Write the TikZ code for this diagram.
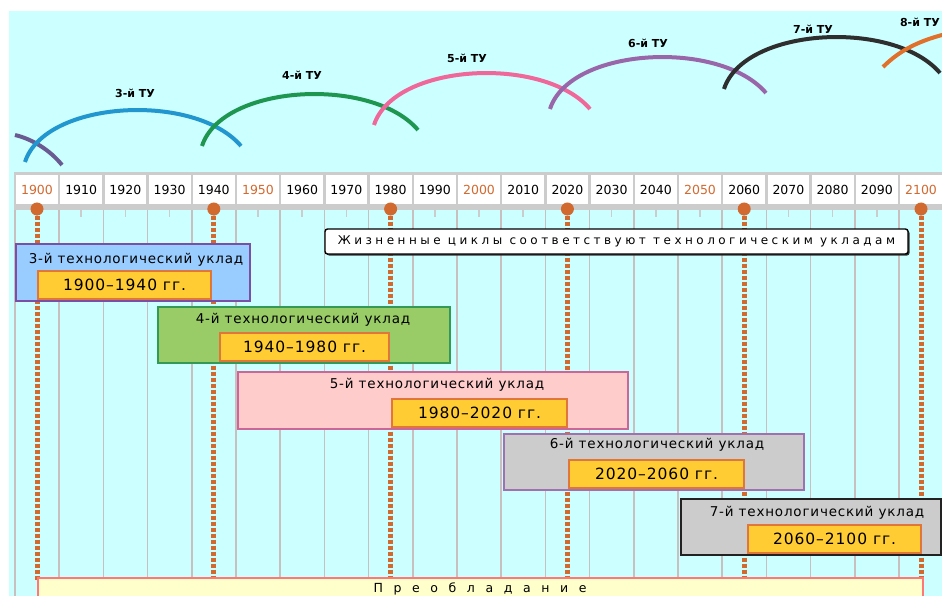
\documentclass[tikz,border=0pt]{standalone}
\usepackage{fontspec}
\setmainfont{DejaVu Sans}
\newfontfamily\tracked[LetterSpace=6]{DejaVu Sans}
\newfontfamily\spaced[LetterSpace=29]{DejaVu Sans}
\newfontfamily\wider[LetterSpace=53]{DejaVu Sans}
\usepackage{tikz}
\usetikzlibrary{positioning,calc,shadows}
\definecolor{sky}{HTML}{CCFFFF}
\definecolor{band}{HTML}{CCCCCC}
\definecolor{gridline}{HTML}{C9BFBF}
\definecolor{rust}{HTML}{D2692F}
\definecolor{gold}{HTML}{FFCC33}
\definecolor{goldedge}{HTML}{E0763A}
\definecolor{cream}{HTML}{FFFFCC}
\definecolor{creamedge}{HTML}{FF7777}
\definecolor{tutwo}{HTML}{6A5A92}
\definecolor{tuthree}{HTML}{2196CF}
\definecolor{tufour}{HTML}{1E9650}
\definecolor{tufive}{HTML}{F0679A}
\definecolor{tusix}{HTML}{9966AA}
\definecolor{tuseven}{HTML}{2E2E2E}
\definecolor{tueight}{HTML}{E0702A}
\definecolor{ukthreefill}{HTML}{99CCFF}
\definecolor{ukthreeedge}{HTML}{7B4FA5}
\definecolor{ukfourfill}{HTML}{99CC66}
\definecolor{ukfouredge}{HTML}{339955}
\definecolor{ukfivefill}{HTML}{FFCCCC}
\definecolor{ukfiveedge}{HTML}{CC6699}
\definecolor{uksixfill}{HTML}{CCCCCC}
\definecolor{uksixedge}{HTML}{A070B0}
\definecolor{uksevenedge}{HTML}{222222}
\tikzset{uklad/.style={draw, line width=2.2pt, anchor=north west, inner sep=0pt},
  yearbox/.style={uklad, anchor=south west, fill=gold, draw=goldedge, minimum width=174, minimum height=28, font=\tracked\fontsize{15.5}{17}\selectfont},
  uktitle/.style={inner sep=0pt, font=\tracked\fontsize{13.5}{15}\selectfont},
  peakdot/.style={circle, fill=rust, inner sep=0pt, minimum size=13},
  peak/.style={draw=rust, line width=5pt, dash pattern=on 4pt off 2pt},
  tucurve/.style={line width=4pt},
  tu/.style={inner sep=0pt, font=\bfseries\fontsize{11}{13}\selectfont},
  decade/.style={inner sep=0pt, font=\fontsize{12.5}{14}\selectfont}}
\begin{document}
\begin{tikzpicture}[x=1pt,y=-1pt]
\path[use as bounding box] (0,0) rectangle (942,596);
\clip (0,0) rectangle (942,596);
\fill[sky] (9,11) rectangle (942,596);
\foreach \k in {0,...,21} \draw[gridline, line width=1.7pt] ({15+44.2*\k},205) -- ({15+44.2*\k},596);
\fill[band] (14,172) rectangle (950,210);
\foreach \k in {0,...,20}{
  \pgfmathtruncatemacro\yr{1900+10*\k}
  \pgfmathtruncatemacro\r{mod(\yr,50)}
  \pgfmathsetmacro\cx{37+44.2*\k}
  \ifnum\r=0 \def\c{rust}\else\def\c{black}\fi
  \fill[white] ({\cx-20.9},175) rectangle ({\cx+20.9},204);
  \draw[band, line width=1.5pt] (\cx,204) -- (\cx,217);
  \node[decade, text=\c] (y\yr) at (\cx,190) {\yr};
}
\draw[tucurve, tutwo] (15,135) .. controls (32,139) and (50,150) .. (62,165);
\foreach \sx/\sy/\c in {25/162/tuthree, 202/146/tufour, 374/125/tufive, 550/109/tusix, 724/89/tuseven}
  \draw[tucurve, \c] (\sx,\sy) .. controls ({\sx+20},{\sy-62}) and ({\sx+170},{\sy-70}) .. ({\sx+216},{\sy-16});
\draw[tucurve, tueight] (883,67) .. controls (900,50) and (920,40) .. (950,33);
\node[tu] (l3) at (135,93) {3-й ТУ};
\node[tu] (l4) at (302,75) {4-й ТУ};
\node[tu] (l5) at (467,58) {5-й ТУ};
\node[tu] (l6) at (648,43) {6-й ТУ};
\node[tu] (l7) at (813,29) {7-й ТУ};
\node[tu, anchor=east] (l8) at (940,22) {8-й ТУ};
\foreach \yr in {1900,1940,...,2100}{
  \node[peakdot] (d\yr) at ({37+4.42*(\yr-1900)},209) {};
  \coordinate (e\yr) at ({37+4.42*(\yr-1900)},580);
  \draw[peak] (d\yr) -- (e\yr);
}
\node[uklad, fill=ukthreefill, draw=ukthreeedge, minimum width=234, minimum height=57] (u3) at (15,243) {};
\node[uktitle] (t3) at (136,260) {3-й технологический уклад};
\node[yearbox, minimum width=173] (p3) at (37,300) {1900–1940 гг.};
\node[uklad, fill=ukfourfill, draw=ukfouredge, minimum width=292, minimum height=56] (u4) at (157,306) {};
\node[uktitle] (t4) at (303,320) {4-й технологический уклад};
\node[yearbox, minimum width=169] (p4) at (219,362) {1940–1980 гг.};
\node[uklad, fill=ukfivefill, draw=ukfiveedge, minimum width=390, minimum height=57] (u5) at (237,371) {};
\node[uktitle] (t5) at (437,385) {5-й технологический уклад};
\node[yearbox, minimum width=175] (p5) at (391,428) {1980–2020 гг.};
\node[uklad, fill=uksixfill, draw=uksixedge, minimum width=300, minimum height=56] (u6) at (503,433) {};
\node[uktitle] (t6) at (657,445) {6-й технологический уклад};
\node[yearbox, minimum width=175] (p6) at (568,489) {2020–2060 гг.};
\node[uklad, fill=uksixfill, draw=uksevenedge, minimum width=260, minimum height=56] (u7) at (680,498) {};
\node[uktitle] (t7) at (817,513) {7-й технологический уклад};
\node[yearbox, minimum width=173] (p7) at (747,554) {2060–2100 гг.};
\node[draw, fill=white, line width=1.4pt, rounded corners=2.5pt, minimum width=583, minimum height=25, inner sep=0pt,
  drop shadow={shadow xshift=1.5pt, shadow yshift=-1.5pt, fill=black!80, opacity=1},
  font=\spaced\fontsize{12}{14}\selectfont] (cycles) at (616.5,241.5) {Жизненные циклы соответствуют технологическим укладам};
\node[uklad, fill=cream, draw=creamedge, line width=1.6pt, minimum width=885, minimum height=24] (rule) at (37,577) {};
\node[inner sep=0pt, font=\wider\fontsize{12.5}{14}\selectfont] (ruletext) at (480,589) {П р е о б л а д а н и е};
\end{tikzpicture}
\end{document}
